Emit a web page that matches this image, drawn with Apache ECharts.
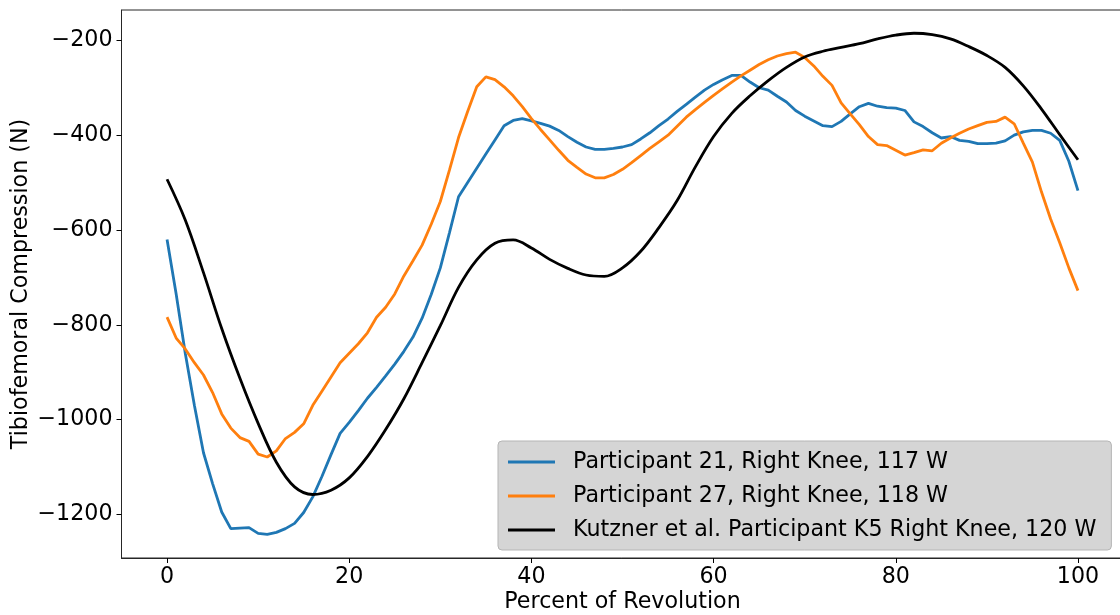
<!DOCTYPE html>
<html>
<head>
<meta charset="utf-8">
<script src="https://cdn.jsdelivr.net/npm/echarts@6/dist/echarts.min.js"></script>
<style>
  html, body { margin: 0; padding: 0; background: #fff; }
  #chart { width: 1120px; height: 615px; }
</style>
</head>
<body>
<div id="chart"></div>
<script>
// Tibiofemoral compression over one pedal revolution

const seriesNames = [
  'Participant 21, Right Knee, 117 W',
  'Participant 27, Right Knee, 118 W',
  'Kutzner et al. Participant K5 Right Knee, 120 W'
];

const xTicks = [0, 20, 40, 60, 80, 100];
const yTicks = [-1200, -1000, -800, -600, -400, -200];

// Participant 21 (percent of revolution, force in N)
const p21Pct = [0,1,2,3,4,5,6,7,8,9,10,11,12,13,14,15,16,17,18,19,20,21,22,23,24,25,26,27,28,29,30,31,32,33,34,35,36,37,38,39,40,41,42,43,44,45,46,47,48,49,50,51,52,53,54,55,56,57,58,59,60,61,62,63,64,65,66,67,68,69,70,71,72,73,74,75,76,77,78,79,80,81,82,83,84,85,86,87,88,89,90,91,92,93,94,95,96,97,98,99,100];
const p21Force = [-620,-735,-860,-970,-1070,-1135,-1195,-1230,-1229,-1228,-1240,-1242,-1238,-1230,-1219,-1196,-1163,-1120,-1074,-1029,-1006,-981,-955,-932,-908,-883,-856,-826,-786,-736,-680,-606,-530,-500,-470,-440,-410,-380,-369,-365,-370,-375,-381,-390,-403,-415,-425,-430,-430,-428,-425,-420,-408,-395,-380,-366,-350,-335,-320,-305,-293,-283,-274,-274,-288,-300,-305,-318,-330,-348,-360,-370,-380,-382,-371,-355,-340,-333,-339,-342,-343,-348,-372,-382,-395,-406,-403,-411,-413,-418,-418,-417,-412,-400,-393,-390,-390,-396,-411,-455,-517];

// Participant 27
const p27Pct = [0,1,2,3,4,5,6,7,8,9,10,11,12,13,14,15,16,17,18,19,20,21,22,23,24,25,26,27,28,29,30,31,32,33,34,35,36,37,38,39,40,41,42,43,44,45,46,47,48,49,50,51,52,53,54,55,56,57,58,59,60,61,62,63,64,65,66,67,68,69,70,71,72,73,74,75,76,77,78,79,80,81,82,83,84,85,86,87,88,89,90,91,92,93,94,95,96,97,98,99,100];
const p27Force = [-784,-828,-851,-880,-906,-943,-988,-1018,-1038,-1046,-1073,-1079,-1066,-1040,-1027,-1009,-970,-940,-910,-880,-860,-840,-817,-784,-763,-735,-697,-665,-632,-588,-540,-474,-405,-350,-298,-277,-283,-298,-317,-340,-365,-388,-410,-432,-453,-468,-482,-490,-490,-483,-472,-458,-443,-428,-414,-400,-381,-362,-346,-331,-316,-302,-288,-275,-263,-251,-241,-233,-228,-225,-236,-254,-276,-295,-332,-355,-378,-403,-420,-422,-432,-442,-437,-431,-433,-417,-406,-396,-387,-380,-373,-371,-362,-376,-417,-457,-520,-577,-627,-680,-728];

// Kutzner et al., participant K5
const k5Pct = [0,2,4,6,8,10,12,14,16,18,20,22,24,26,28,30,32,34,36,38,40,42,44,46,48,50,52,54,56,58,60,62,64,66,68,70,72,74,76,78,80,82,84,86,88,90,92,94,96,98,100];
const k5Force = [-493,-579,-690,-808,-913,-1008,-1090,-1142,-1158,-1149,-1123,-1078,-1021,-956,-880,-802,-721,-663,-628,-621,-638,-662,-681,-695,-698,-680,-645,-595,-538,-467,-403,-354,-317,-285,-257,-235,-223,-215,-207,-197,-189,-185,-188,-197,-213,-232,-257,-296,-345,-399,-452];

const pairs = (xs, ys) => xs.map((x, i) => [x, ys[i]]);

const FONT = 'DejaVu Sans';
const FS = 22.2;
const chart = echarts.init(document.getElementById('chart'), null, { renderer: 'canvas' });

chart.setOption({
  animation: false,
  backgroundColor: '#ffffff',
  textStyle: { fontFamily: FONT },
  grid: {
    left: 121.5, top: 10, width: 1002, height: 548,
    outerBoundsMode: 'none', containLabel: false,
    show: true, borderColor: '#262626', borderWidth: 1, backgroundColor: 'transparent'
  },
  xAxis: {
    type: 'value', min: -5, max: 105,
    name: 'Percent of Revolution', nameLocation: 'middle', nameGap: 33, nameMoveOverlap: false,
    nameTextStyle: { fontFamily: FONT, fontSize: FS, color: '#000' },
    axisLine: { show: true, onZero: false, lineStyle: { color: '#262626', width: 1 } },
    axisTick: { show: true, length: 5, lineStyle: { color: '#000', width: 1 }, customValues: xTicks },
    axisLabel: { fontFamily: FONT, fontSize: FS, color: '#000', margin: 8, customValues: xTicks },
    splitLine: { show: false }
  },
  yAxis: {
    type: 'value', min: -1292, max: -136,
    name: 'Tibiofemoral Compression (N)', nameLocation: 'middle', nameGap: 89, nameMoveOverlap: false,
    nameTextStyle: { fontFamily: FONT, fontSize: FS, color: '#000' },
    axisLine: { show: true, onZero: false, lineStyle: { color: '#262626', width: 1 } },
    axisTick: { show: true, length: 5, lineStyle: { color: '#000', width: 1 }, customValues: yTicks },
    axisLabel: {
      fontFamily: FONT, fontSize: FS, color: '#000', margin: 9, customValues: yTicks,
      formatter: v => String(v).replace('-', '\u2212')
    },
    splitLine: { show: false }
  },
  legend: {
    orient: 'vertical', left: 498, top: 441,
    data: seriesNames.map(n => ({ name: n, icon: 'rect' })),
    itemWidth: 47, itemHeight: 3, itemGap: 12,
    padding: [10, 15, 9, 10],
    backgroundColor: '#d5d5d5', borderColor: '#b5b5b5', borderWidth: 1, borderRadius: 4,
    textStyle: { fontFamily: FONT, fontSize: FS, color: '#000', lineHeight: 22, padding: [0, 0, 0, 13] }
  },
  series: [
    {
      name: seriesNames[0], type: 'line', data: pairs(p21Pct, p21Force),
      showSymbol: false, color: '#1f77b4', lineStyle: { width: 2.8, color: '#1f77b4' }, z: 2
    },
    {
      name: seriesNames[1], type: 'line', data: pairs(p27Pct, p27Force),
      showSymbol: false, color: '#ff7f0e', lineStyle: { width: 2.8, color: '#ff7f0e' }, z: 3
    },
    {
      name: seriesNames[2], type: 'line', data: pairs(k5Pct, k5Force), smooth: 0.35,
      showSymbol: false, color: '#000000', lineStyle: { width: 2.8, color: '#000000' }, z: 4
    }
  ]
});
</script>
</body>
</html>
